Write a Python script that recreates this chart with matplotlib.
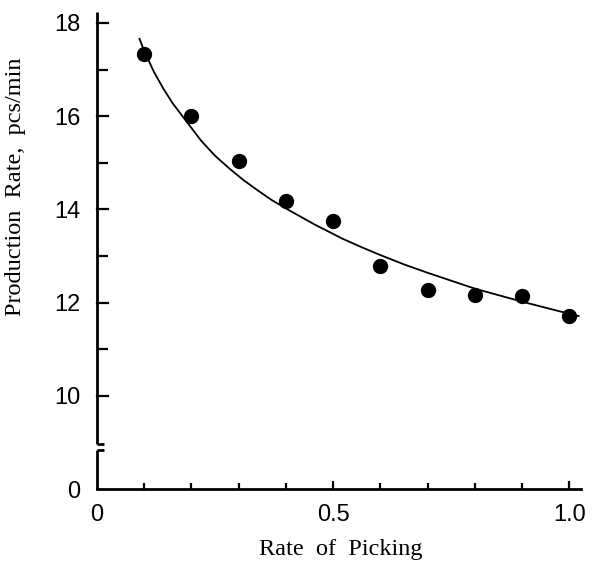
import numpy as np
import matplotlib.pyplot as plt

# measured points
rate_pick = [0.1, 0.2, 0.3, 0.4, 0.5, 0.6, 0.7, 0.8, 0.9, 1.0]
prod_rate = [17.33, 16.0, 15.03, 14.18, 13.75, 12.79, 12.27, 12.16, 12.15, 11.71]

# fitted curve
curve_x = [0.09, 0.10, 0.12, 0.14, 0.16, 0.19, 0.22, 0.25, 0.28, 0.31, 0.34, 0.37,
           0.40, 0.43, 0.46, 0.52, 0.56, 0.60, 0.65, 0.70, 0.75, 0.80, 0.85,
           0.90, 0.95, 1.00, 1.02]
curve_y = [17.66, 17.40, 16.96, 16.60, 16.28, 15.88, 15.48, 15.15, 14.88, 14.63, 14.41, 14.20,
           14.02, 13.85, 13.68, 13.37, 13.19, 13.02, 12.82, 12.64, 12.47, 12.30, 12.16,
           12.02, 11.89, 11.76, 11.71]

y_ticks = [8, 10, 12, 14, 16, 18]       # 8 stands for the broken-axis zero
y_labels = ['0', '10', '12', '14', '16', '18']
x_ticks = [0, 0.5, 1.0]
x_labels = ['0', '0.5', '1.0']

tick_font = 'Liberation Sans'
label_font = 'Liberation Serif'

fig = plt.figure(figsize=(5.92, 5.71), dpi=100)
ax = fig.add_axes([97/592, 1-489/571, 484/592, 477/571])

ax.plot(curve_x, curve_y, color='black', lw=1.3)
ax.plot(rate_pick, prod_rate, 'o', color='black', ms=10)

ax.set_xlim(0, 1.025)
ax.set_ylim(8, 18.235)

for s in ['top', 'right', 'left']:
    ax.spines[s].set_visible(False)
ax.spines['bottom'].set_linewidth(2)

# broken y axis drawn by hand
kw = dict(color='black', lw=2, clip_on=False, solid_capstyle='butt')
ax.plot([0, 0], [8, 8.84], **kw)
ax.plot([0, 0.014], [8.84, 8.84], **kw)
ax.plot([0, 0], [8.97, 18.235], **kw)
ax.plot([0, 0.014], [8.97, 8.97], **kw)

ax.set_yticks(y_ticks)
ax.set_yticklabels(y_labels, fontfamily=tick_font, fontsize=17)
ax.set_yticks([11, 13, 15, 17], minor=True)
ax.tick_params(axis='y', which='both', direction='in', length=8, width=1.6, pad=12)
ax.tick_params(axis='y', which='major', length=0)
for yv in [10, 12, 14, 16, 18]:
    ax.plot([0, 0.024], [yv, yv], color='black', lw=1.6, clip_on=False)

ax.set_xticks(x_ticks)
ax.set_xticklabels(x_labels, fontfamily=tick_font, fontsize=17)
ax.set_xticks([0.1, 0.2, 0.3, 0.4, 0.6, 0.7, 0.8, 0.9], minor=True)
ax.tick_params(axis='x', which='major', direction='in', length=6, width=1.6, pad=11)
ax.tick_params(axis='x', which='minor', direction='in', length=4, width=1.6)
ax.xaxis.get_major_ticks()[0].tick1line.set_visible(False)

ax.set_xlabel('Rate  of  Picking', fontfamily=label_font, fontsize=17.5)
ax.set_ylabel('Production  Rate,  pcs/min', fontfamily=label_font, fontsize=17.5)
ax.xaxis.set_label_coords(0.504, -0.105)
ax.yaxis.set_label_coords(-0.146, 0.633)

fig.savefig('out.png', dpi=100)
